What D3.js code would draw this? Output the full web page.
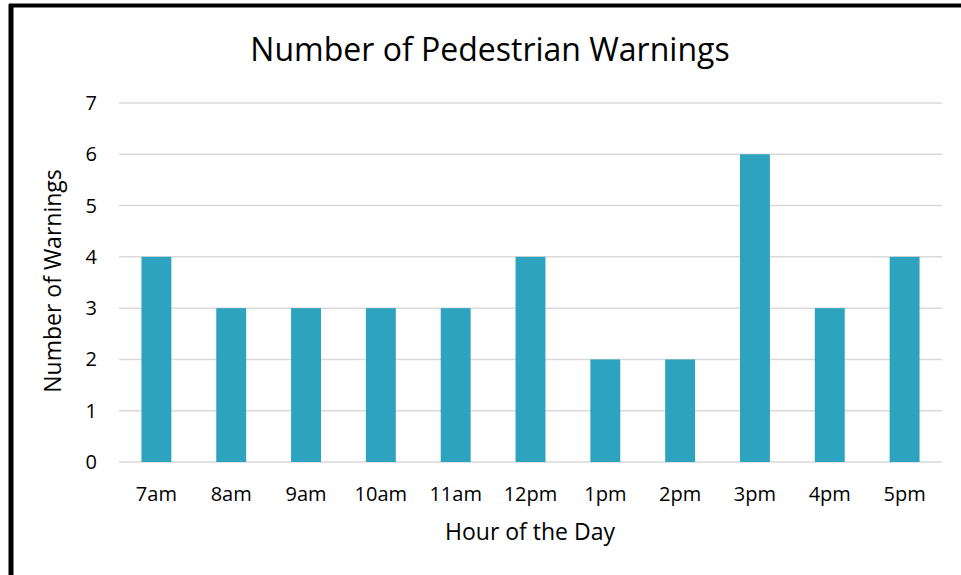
<!DOCTYPE html>
<html>
<head>
<meta charset="utf-8">
<script src="https://cdn.jsdelivr.net/npm/d3@7"></script>
<style>
  body { margin: 0; background: #fff; }
  svg { display: block; font-family: "Open Sans", "DejaVu Sans", sans-serif; }
</style>
</head>
<body>
<svg id="canvas" width="961" height="575"></svg>
<script>
let hours = ["7am","8am","9am","10am","11am","12pm","1pm","2pm","3pm","4pm","5pm"];
let warnings = [4,3,3,3,3,4,2,2,6,3,4];
let yTicks = [0,1,2,3,4,5,6,7];

let canvas = d3.select("#canvas");

// frame lines (left + top)
canvas.append("rect").attr("x",0).attr("y",0).attr("width",961).attr("height",575).attr("fill","#fff");
canvas.append("line").attr("x1",11).attr("x2",11).attr("y1",4).attr("y2",575)
  .attr("stroke","#000").attr("stroke-width",5);
canvas.append("line").attr("x1",9).attr("x2",961).attr("y1",5.5).attr("y2",5.5)
  .attr("stroke","#000").attr("stroke-width",4);

let plotLeft = 119, plotRight = 942, plotTop = 103, plotBottom = 462;

let x = d3.scaleBand().domain(hours).range([plotLeft, plotRight]).paddingInner(0.6).paddingOuter(0.3);
let y = d3.scaleLinear().domain([0,7]).range([plotBottom, plotTop]);

// gridlines
canvas.append("g").selectAll("line")
  .data(yTicks)
  .enter()
  .append("line")
  .attr("x1", plotLeft).attr("x2", plotRight)
  .attr("y1", d => y(d)).attr("y2", d => y(d))
  .attr("stroke", "#d9d9d9").attr("stroke-width", 1.5);

// y tick labels
canvas.append("g").selectAll("text")
  .data(yTicks)
  .enter()
  .append("text")
  .attr("x", 97).attr("y", d => y(d) + 7)
  .attr("text-anchor","end")
  .attr("font-size", 20).attr("fill","#000")
  .text(d => d);

// bars
canvas.append("g").selectAll("rect")
  .data(hours)
  .enter()
  .append("rect")
  .attr("x", d => x(d))
  .attr("width", x.bandwidth())
  .attr("y", (d,i) => y(warnings[i]))
  .attr("height", (d,i) => y(0) - y(warnings[i]))
  .attr("fill", "#2ea3bf");

// x tick labels
let step = (plotRight - plotLeft) / hours.length;
canvas.append("g").selectAll("text")
  .data(hours)
  .enter()
  .append("text")
  .attr("x", (d,i) => plotLeft + step*(i+0.5))
  .attr("y", 501)
  .attr("text-anchor","middle")
  .attr("font-size", 20).attr("fill","#000")
  .text(d => d);

// titles
canvas.append("text")
  .attr("x", 490).attr("y", 61)
  .attr("text-anchor","middle")
  .attr("font-size", 32).attr("fill","#000")
  .text("Number of Pedestrian Warnings");

canvas.append("text")
  .attr("x", 530).attr("y", 540)
  .attr("text-anchor","middle")
  .attr("font-size", 23).attr("fill","#000")
  .text("Hour of the Day");

canvas.append("text")
  .attr("transform", "translate(61,281) rotate(-90)")
  .attr("text-anchor","middle")
  .attr("font-size", 23).attr("fill","#000")
  .text("Number of Warnings");
</script>
</body>
</html>
